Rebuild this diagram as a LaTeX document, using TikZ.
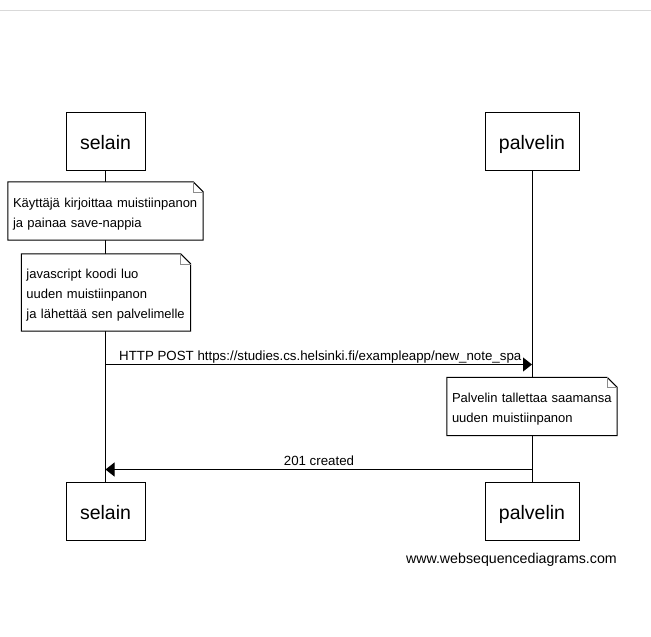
\documentclass[tikz,border=0pt]{standalone}
\usepackage{fontspec}
\setmainfont{Liberation Sans}
\usetikzlibrary{arrows.meta,calc}
\newcommand{\foldnote}[1]{%
  \fill[white] (#1.north west) -- ($(#1.north east)+(-10,0)$) -- ($(#1.north east)+(0,10)$) -- (#1.south east) -- (#1.south west) -- cycle;
  \draw[noteline] (#1.north west) -- ($(#1.north east)+(-10,0)$) -- ($(#1.north east)+(0,10)$) -- (#1.south east) -- (#1.south west) -- cycle;
  \draw[black!45, line width=0.6pt] ($(#1.north east)+(-10,0)$) -- ($(#1.north east)+(-10,10)$) -- ($(#1.north east)+(0,10)$);
}
\begin{document}
\begin{tikzpicture}[x=1pt,y=-1pt,
  actor/.style={draw, fill=white, line width=1pt, minimum height=58pt, inner sep=0pt,
    text height=16pt, text depth=0pt, font=\fontsize{19.5}{22}\selectfont},
  notetext/.style={inner xsep=5pt, inner ysep=0pt, align=left,
    font=\fontsize{13}{20}\selectfont},
  noteline/.style={draw, line width=1pt},
  lifeline/.style={line width=1pt},
  msg/.style={line width=1pt, -{Triangle[length=9pt,width=14pt]}},
  msglabel/.style={font=\fontsize{13.3}{15}\selectfont, inner sep=0pt}
]
\useasboundingbox (0,0) rectangle (651,637);
\draw[black!15, line width=1.2pt] (0,10.5) -- (651,10.5);

% actors
\node[actor, minimum width=79pt] (s1) at (105.5,141) {selain};
\node[actor, minimum width=94pt] (p1) at (532,141) {palvelin};
\node[actor, minimum width=79pt] (s2) at (105.5,511) {selain};
\node[actor, minimum width=94pt] (p2) at (532,511) {palvelin};

% lifelines
\draw[lifeline] (s1.south) -- (s2.north);
\draw[lifeline] (p1.south) -- (p2.north);

% note 1
\node[notetext, text width=185pt, minimum height=58pt] (n1) at (105.5,211) {\phantom{K}};
\foldnote{n1}
\node[notetext, text width=185pt] (n1t) at (105.5,214) {Käyttäjä kirjoittaa muistiinpanon\\ja painaa save-nappia};

% note 2
\node[notetext, text width=159pt, minimum height=77pt] (n2) at (106,292.5) {\phantom{j}};
\foldnote{n2}
\node[notetext, text width=159pt] (n2t) at (106,295.5) {javascript koodi luo\\uuden muistiinpanon\\ja lähettää sen palvelimelle};

% message 1
\coordinate (m1s) at (s1.south |- 0,364.5);
\coordinate (m1e) at (p1.south |- 0,364.5);
\draw[msg] (m1s) -- (m1e);
\node[msglabel, anchor=base west] (l1) at (119,360) {HTTP POST https://studies.cs.helsinki.fi/exampleapp/new\_note\_spa};

% note 3
\node[notetext, text width=160pt, minimum height=58pt] (n3) at (532,406.5) {\phantom{P}};
\foldnote{n3}
\node[notetext, text width=160pt] (n3t) at (532,409.5) {Palvelin tallettaa saamansa\\uuden muistiinpanon};

% message 2
\coordinate (m2s) at (p1.south |- 0,469.5);
\coordinate (m2e) at (s1.south |- 0,469.5);
\draw[msg] (m2s) -- (m2e);
\node[msglabel, anchor=base] (l2) at (319,465) {201 created};

% footer
\node[font=\fontsize{14.2}{16}\selectfont, anchor=base east, inner sep=0pt] (ws) at (617,563) {www.websequencediagrams.com};
\end{tikzpicture}
\end{document}
